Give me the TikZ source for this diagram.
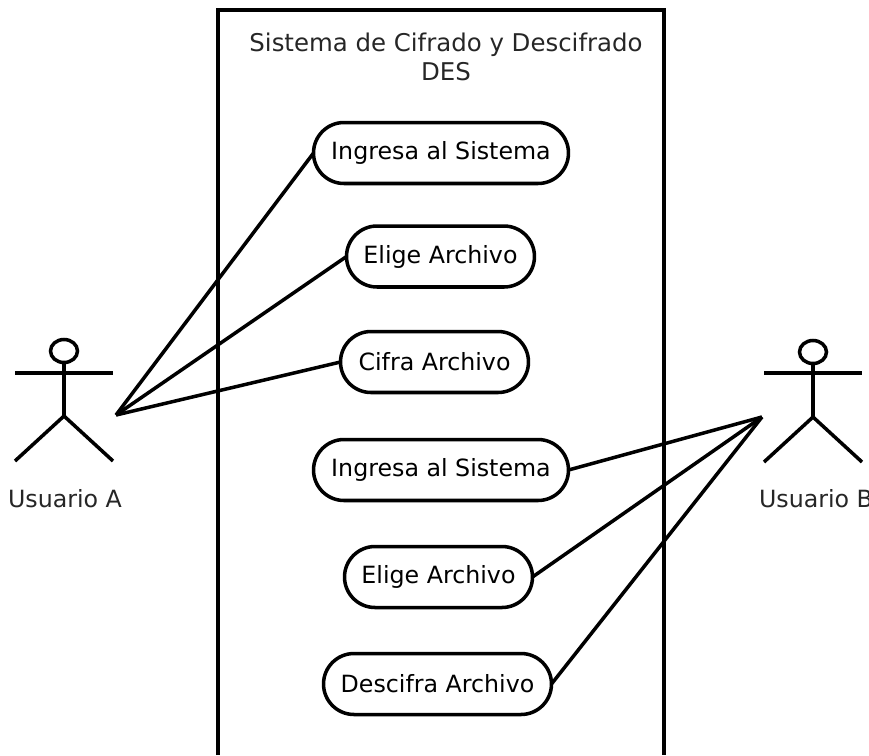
\documentclass[tikz,border=0pt]{standalone}
\usepackage{fontspec}
\setmainfont{DejaVu Sans}
\usepackage{xcolor}
\usepackage{tikz}
\usetikzlibrary{shapes,positioning,calc}

\begin{document}
\begin{tikzpicture}[x=0.02cm,y=-0.02cm,
    caso/.style={draw,line width=2pt,rectangle,rounded corners=0.61cm,minimum height=1.22cm,inner sep=0pt,outer sep=0pt,font=\fontsize{13.5}{16}\selectfont},
    texto/.style={font=\fontsize{13.5}{16.4}\selectfont,align=center,text=black!85},
    linea/.style={line width=2pt}]
    \useasboundingbox (0,0) rectangle (869,755);
    % sistema
    \draw[line width=2.4pt] (218,755) -- (218,10) -- (664,10) -- (664,755);
    \node[texto,font=\fontsize{13.9}{16.4}\selectfont] (titulo) at (446,57) {Sistema de Cifrado y Descifrado\\DES};
    % casos de uso
    \node[caso,minimum width=5.1cm] (ingresaA) at (441,153) {Ingresa al Sistema};
    \node[caso,minimum width=3.76cm] (eligeA) at (440.5,256.5) {Elige Archivo};
    \node[caso,minimum width=3.76cm] (cifra) at (434.5,362) {Cifra Archivo};
    \node[caso,minimum width=5.1cm] (ingresaB) at (441,470) {Ingresa al Sistema};
    \node[caso,minimum width=3.76cm] (eligeB) at (438.5,577) {Elige Archivo};
    \node[caso,minimum width=4.56cm] (descifra) at (437.5,684) {Descifra Archivo};
    % usuario A
    \draw[linea] (64,351) ellipse (13.5 and 11.5);
    \draw[linea] (64,362) -- (64,416) (15,373) -- (113,373);
    \draw[linea] (15,461) -- (64,416) -- (113,461);
    \node[texto] (usuarioA) at (65,499) {Usuario A};
    \coordinate (manoA) at (116,415);
    % usuario B
    \draw[linea] (813,352) ellipse (13.5 and 11.5);
    \draw[linea] (813,363) -- (813,417) (764,373) -- (862,373);
    \draw[linea] (764,462) -- (813,417) -- (862,462);
    \node[texto] (usuarioB) at (816,499) {Usuario B};
    \coordinate (manoB) at (762,417);
    % conexiones
    \draw[linea] (manoA) -- (ingresaA.west);
    \draw[linea] (manoA) -- (eligeA.west);
    \draw[linea] (manoA) -- (cifra.west);
    \draw[linea] (manoB) -- (ingresaB.east);
    \draw[linea] (manoB) -- (eligeB.east);
    \draw[linea] (manoB) -- (descifra.east);
\end{tikzpicture}
\end{document}
